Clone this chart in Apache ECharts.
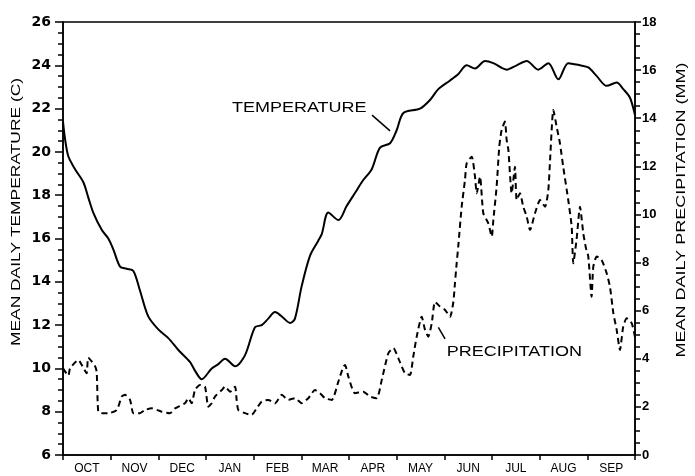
<!DOCTYPE html>
<html>
<head>
<meta charset="utf-8">
<script src="https://cdn.jsdelivr.net/npm/echarts@6/dist/echarts.min.js"></script>
<style>
  html, body { margin: 0; padding: 0; background: #fff; }
  #chart { width: 695px; height: 476px; }
</style>
</head>
<body>
<div id="chart"></div>
<script>
// water year, Oct 1 = day 0
const monthLabels = ['OCT', 'NOV', 'DEC', 'JAN', 'FEB', 'MAR', 'APR', 'MAY', 'JUN', 'JUL', 'AUG', 'SEP'];

const tempDays = [0, 1.3, 3.4, 7.7, 13, 16.1, 19.3, 24.7, 28.9, 32.1, 36.4, 40.6, 44.9, 49.1, 54.4, 60.8,
  67.2, 73.6, 81, 84.2, 88.5, 94.9, 99.1, 103.4, 109.8, 116.1, 122.5, 126.8, 131, 135.3, 139.6, 144.9,
  148, 152.3, 157.6, 162.9, 165.1, 169.3, 175.7, 181, 186.3, 191.6, 197, 202.3, 208.7, 212.9, 217.2,
  227.8, 234.2, 239.5, 247, 252.3, 257.6, 262.9, 269.3, 274.6, 283.1, 289.5, 295.9, 303.3, 309.7,
  316.1, 322.4, 329.9, 335.2, 340.6, 346.9, 353.3, 357.5, 361.8, 365];
const tempValues = [21.4, 20.6, 19.8, 19.2, 18.6, 17.9, 17.2, 16.4, 16.0, 15.5, 14.7, 14.6, 14.5, 13.6, 12.4, 11.8,
  11.4, 10.85, 10.3, 9.9, 9.5, 10.0, 10.2, 10.45, 10.1, 10.6, 11.9, 12.0, 12.3, 12.6, 12.4, 12.1,
  12.3, 13.8, 15.2, 15.9, 16.2, 17.2, 16.85, 17.5, 18.1, 18.7, 19.2, 20.2, 20.4, 21.0, 21.8,
  22.0, 22.4, 22.9, 23.3, 23.6, 24.0, 23.85, 24.2, 24.1, 23.8, 24.0, 24.2, 23.8, 24.1,
  23.35, 24.1, 24.0, 23.9, 23.5, 23.05, 23.2, 22.9, 22.5, 21.7];

const precipDays = [0, 3.4, 4.5, 9.8, 11.9, 15.1, 16.1, 20.4, 21.5, 22.5, 24.7, 28.9, 34.3, 37.5, 39.6, 42.8,
  44.9, 49.1, 52.3, 56.6, 63, 68.3, 71.5, 77.8, 80, 82.1, 84.2, 87.4, 90.6, 92.7, 94.9, 97, 101.3,
  103.4, 106.6, 109.8, 110.8, 111.9, 116.1, 120.4, 123.6, 126.8, 131, 135.3, 139.6, 143.8, 148,
  152.3, 156.5, 160.8, 164, 167.2, 171.5, 175.7, 178.9, 180, 182.1, 186.3, 191.6, 195.9, 200.2,
  203.4, 207.6, 210.8, 214, 218.2, 221.4, 223.5, 225.7, 228.9, 231, 233.1, 235.3, 237.4, 240.6,
  243.8, 247, 249.1, 250.1, 251.2, 252.2, 254.4, 256.5, 257.6, 260.8, 262.9, 264, 266.1, 268.2,
  271.4, 273.6, 274.6, 276.7, 278.4, 279.9, 282, 283.1, 284.2, 286.3, 288.4, 289.5, 291.6, 293.7,
  295.9, 298, 301.2, 304.4, 307.6, 309.7, 310.8, 312.9, 315, 317.1, 319.2, 322.4, 324.6, 325.6,
  327.7, 329.9, 332, 333.7, 335.2, 337.3, 338.4, 340.6, 343.7, 346.9, 349, 351.2, 353.3, 355.4,
  357.5, 359.7, 362.9, 365];
const precipValues = [3.6, 3.3, 3.6, 3.95, 3.75, 3.4, 4.05, 3.7, 3.45, 1.8, 1.74, 1.74, 1.87, 2.43, 2.5, 2.29,
  1.74, 1.74, 1.87, 1.94, 1.8, 1.74, 1.94, 2.15, 2.36, 2.15, 2.7, 2.91, 2.84, 2.01, 2.15, 2.43, 2.7,
  2.84, 2.63, 2.84, 2.29, 1.87, 1.74, 1.67, 1.94, 2.22, 2.29, 2.15, 2.5, 2.29, 2.36,
  2.15, 2.36, 2.7, 2.57, 2.36, 2.29, 3.05, 3.67, 3.74, 3.26, 2.57, 2.63, 2.43, 2.36,
  3.12, 4.23, 4.44, 4.02, 3.4, 3.33, 4.09, 4.92, 5.75, 5.2, 4.92, 5.48, 6.37, 6.17,
  6.03, 5.75, 6.37, 7.14, 7.97, 8.66, 10.32, 11.43, 12.13, 12.4, 11.57, 10.88, 11.57, 10.05,
  9.63, 9.08, 9.77, 11.15, 12.82, 13.51, 13.86, 13.1, 12.68, 10.88, 11.98, 10.6, 10.88, 10.32,
  9.91, 9.35, 10.05, 10.6, 10.32, 11.02, 12.26, 14.34, 13.65, 12.96, 11.98, 10.6, 9.49, 7.97,
  8.94, 10.32, 9.22, 8.6, 8.25, 6.58, 7.83, 8.25, 8.11, 7.56, 7.0, 5.89, 5.2, 4.37,
  5.34, 5.68, 5.48, 4.9];

const chart = echarts.init(document.getElementById('chart'), null, { renderer: 'canvas' });

const axisLineStyle = { color: '#000', width: 1.5 };
const tickStyle = { color: '#000', width: 1.5 };

// extra axis used only to draw the half-unit minor ticks
function minorTickAxis(min, max, position) {
  return {
    type: 'value', min: min, max: max, interval: 0.5, position: position,
    axisLine: { show: false },
    axisTick: { show: true, inside: false, length: 5, lineStyle: tickStyle },
    axisLabel: { show: false },
    splitLine: { show: false }
  };
}

const option = {
  animation: false,
  backgroundColor: '#fff',
  grid: {
    left: 63, right: 60, top: 22, bottom: 21,
    outerBoundsMode: 'none',
    show: true, borderColor: '#000', borderWidth: 1.5, backgroundColor: 'transparent'
  },
  xAxis: [
    {
      type: 'category', data: monthLabels, boundaryGap: true, position: 'bottom',
      axisLine: { lineStyle: axisLineStyle },
      axisTick: { show: true, inside: false, length: 5, lineStyle: tickStyle },
      axisLabel: { color: '#000', fontFamily: 'Liberation Sans', fontSize: 12, margin: 8 },
      splitLine: { show: false }
    },
    { type: 'value', min: 0, max: 365, show: false }
  ],
  yAxis: [
    {
      type: 'value', min: 6, max: 26, interval: 2, position: 'left',
      axisLine: { show: true, lineStyle: axisLineStyle },
      axisTick: { show: true, inside: false, length: 8, lineStyle: tickStyle },
      axisLabel: { color: '#000', fontFamily: 'DejaVu Sans', fontWeight: 'bold', fontSize: 14, margin: 12 },
      splitLine: { show: false }
    },
    {
      type: 'value', min: 0, max: 18, interval: 2, position: 'right',
      axisLine: { show: true, lineStyle: axisLineStyle },
      axisTick: { show: true, inside: false, length: 6, lineStyle: tickStyle },
      axisLabel: { color: '#000', fontFamily: 'Liberation Sans', fontWeight: 'bold', fontSize: 13, margin: 7 },
      splitLine: { show: false }
    },
    minorTickAxis(6, 26, 'left'),
    minorTickAxis(0, 18, 'right')
  ],
  series: [
    {
      name: 'TEMPERATURE', type: 'line', xAxisIndex: 1, yAxisIndex: 0,
      data: tempDays.map((d, i) => [d, tempValues[i]]),
      symbol: 'none', smooth: 0.3,
      lineStyle: { color: '#000', width: 2 }
    },
    {
      name: 'PRECIPITATION', type: 'line', xAxisIndex: 1, yAxisIndex: 1,
      data: precipDays.map((d, i) => [d, precipValues[i]]),
      symbol: 'none', smooth: 0.2,
      lineStyle: { color: '#000', width: 2, type: [6, 4] }
    }
  ]
};
chart.setOption(option);

// annotations placed in data coordinates (day, temperature axis)
function px(day, t) {
  return chart.convertToPixel({ xAxisIndex: 1, yAxisIndex: 0 }, [day, t]);
}
const tempText = px(107.8, 22.05);
const tempLead = [px(197.2, 21.7), px(208.7, 20.97)];
const precText = px(244.8, 10.77);
const precLead = [px(239.5, 11.9), px(243.8, 11.36)];
const labelFont = '15px "Liberation Sans", Arial, sans-serif';

chart.setOption({
  graphic: [
    {
      type: 'text', x: tempText[0], y: tempText[1], scaleX: 1.2,
      style: { text: 'TEMPERATURE', font: labelFont, fill: '#000', textAlign: 'left', textVerticalAlign: 'middle', verticalAlign: 'middle' }
    },
    {
      type: 'line', shape: { x1: tempLead[0][0], y1: tempLead[0][1], x2: tempLead[1][0], y2: tempLead[1][1] },
      style: { stroke: '#000', lineWidth: 1.5 }
    },
    {
      type: 'text', x: precText[0], y: precText[1], scaleX: 1.2,
      style: { text: 'PRECIPITATION', font: labelFont, fill: '#000', textAlign: 'left', textVerticalAlign: 'middle', verticalAlign: 'middle' }
    },
    {
      type: 'line', shape: { x1: precLead[0][0], y1: precLead[0][1], x2: precLead[1][0], y2: precLead[1][1] },
      style: { stroke: '#000', lineWidth: 1.5 }
    },
    {
      type: 'text', x: 17, y: 212, rotation: Math.PI / 2, scaleX: 1.45,
      style: { text: 'MEAN DAILY TEMPERATURE (C)', font: '12px "Liberation Sans", Arial, sans-serif', fill: '#000', textAlign: 'center', textVerticalAlign: 'middle', verticalAlign: 'middle' }
    },
    {
      type: 'text', x: 682, y: 210, rotation: Math.PI / 2, scaleX: 1.5,
      style: { text: 'MEAN DAILY PRECIPITATION (MM)', font: '12px "Liberation Sans", Arial, sans-serif', fill: '#000', textAlign: 'center', textVerticalAlign: 'middle', verticalAlign: 'middle' }
    }
  ]
});

window.addEventListener('resize', () => chart.resize());
</script>
</body>
</html>
